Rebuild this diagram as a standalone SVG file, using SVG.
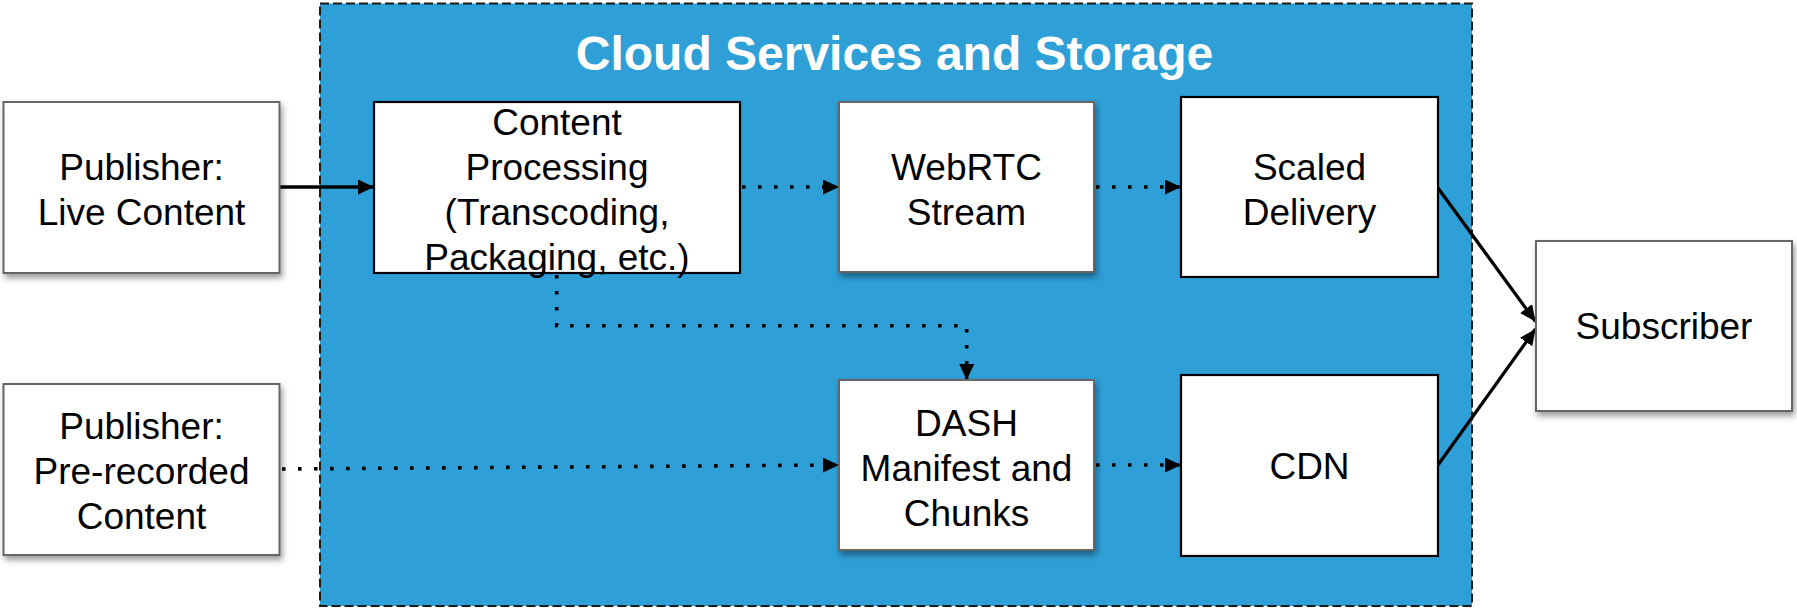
<svg xmlns="http://www.w3.org/2000/svg" width="1797" height="610" viewBox="0 0 1797 610">
  <style>
    .lbl { font-family: "Liberation Sans", Arial, sans-serif; font-size: 37px; fill: #000; text-anchor: middle; }
    .title { font-family: "Liberation Sans", Arial, sans-serif; font-size: 48px; font-weight: bold; fill: #fff; text-anchor: middle; }
    .box-soft { fill: #fff; stroke: #666; stroke-width: 2; filter: url(#shadow); }
    .box-hard { fill: #fff; stroke: #000; stroke-width: 2.2; }
    .solid { fill: none; stroke: #000; stroke-width: 3.3; marker-end: url(#head); }
    .dotted { fill: none; stroke: #000; stroke-width: 3.6; stroke-dasharray: 3.6 12.4; marker-end: url(#head); }
  </style>
  <defs>
    <filter id="shadow" x="-10%" y="-10%" width="125%" height="130%">
      <feDropShadow dx="2" dy="4" stdDeviation="3" flood-color="#000" flood-opacity="0.4"/>
    </filter>
    <marker id="head" viewBox="0 0 16 15" refX="16" refY="7.5" markerWidth="16" markerHeight="15" markerUnits="userSpaceOnUse" orient="auto">
      <path d="M0 0 L16 7.5 L0 15 Z" fill="#000"/>
    </marker>
  </defs>

  <!-- cloud container -->
  <g id="cloud">
    <rect x="320" y="3.5" width="1152" height="602.5" fill="#2f9fd8" stroke="#1a1a1a" stroke-width="2" stroke-dasharray="9 4"/>
    <text class="title" x="894.5" y="70">Cloud Services and Storage</text>
  </g>

  <!-- connectors -->
  <g id="connectors">
    <path class="solid" d="M280 187 H374"/>
    <path class="dotted" d="M742 187 H839"/>
    <path class="dotted" d="M1096 187 H1181"/>
    <path class="dotted" d="M556.7 275 V325.7 H966.7 V380"/>
    <path class="dotted" d="M282 469 L839 465"/>
    <path class="dotted" d="M1096 465 H1181"/>
    <path class="solid" d="M1438 188 L1535.5 321.5"/>
    <path class="solid" d="M1438 465 L1535.5 329"/>
  </g>

  <g id="publisher-live">
    <rect class="box-soft" x="3.5" y="102" width="276" height="171"/>
    <text class="lbl" x="141.5" y="180">Publisher:</text>
    <text class="lbl" x="141.5" y="225">Live Content</text>
  </g>

  <g id="publisher-prerecorded">
    <rect class="box-soft" x="3.5" y="384" width="276" height="171"/>
    <text class="lbl" x="141.5" y="439">Publisher:</text>
    <text class="lbl" x="141.5" y="484">Pre-recorded</text>
    <text class="lbl" x="141.5" y="529">Content</text>
  </g>

  <g id="content-processing">
    <rect class="box-hard" x="374" y="102" width="366" height="171"/>
    <text class="lbl" x="557" y="135">Content</text>
    <text class="lbl" x="557" y="180">Processing</text>
    <text class="lbl" x="557" y="225">(Transcoding,</text>
    <text class="lbl" x="557" y="270">Packaging, etc.)</text>
  </g>

  <g id="webrtc-stream">
    <rect class="box-soft" x="839" y="102" width="255" height="170"/>
    <text class="lbl" x="966.5" y="180">WebRTC</text>
    <text class="lbl" x="966.5" y="225">Stream</text>
  </g>

  <g id="scaled-delivery">
    <rect class="box-hard" x="1181" y="97" width="257" height="180"/>
    <text class="lbl" x="1309.5" y="180">Scaled</text>
    <text class="lbl" x="1309.5" y="225">Delivery</text>
  </g>

  <g id="dash-manifest">
    <rect class="box-soft" x="839" y="380" width="255" height="170"/>
    <text class="lbl" x="966.5" y="436">DASH</text>
    <text class="lbl" x="966.5" y="481">Manifest and</text>
    <text class="lbl" x="966.5" y="526">Chunks</text>
  </g>

  <g id="cdn">
    <rect class="box-hard" x="1181" y="375" width="257" height="181"/>
    <text class="lbl" x="1309.5" y="479">CDN</text>
  </g>

  <g id="subscriber">
    <rect class="box-soft" x="1536" y="241" width="256" height="170"/>
    <text class="lbl" x="1664" y="339">Subscriber</text>
  </g>
</svg>
